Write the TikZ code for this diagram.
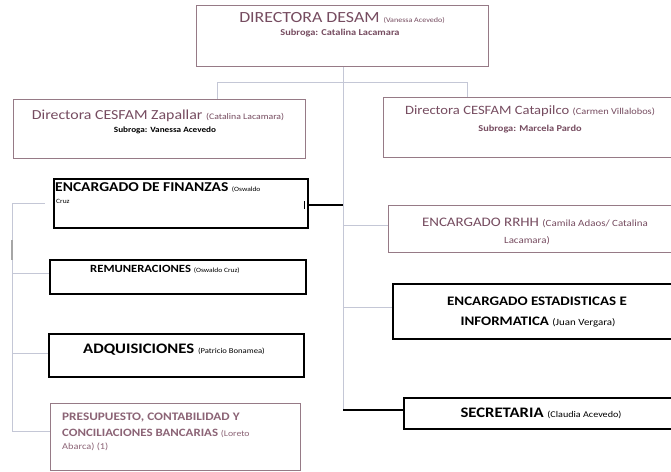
\documentclass[tikz,border=0pt]{standalone}
\usepackage{fontspec}
\setmainfont{Carlito}[FakeStretch=1.15]
\definecolor{mauve}{RGB}{118,76,96}
\definecolor{lmauve}{RGB}{140,100,118}
\definecolor{mborder}{RGB}{150,122,134}
\definecolor{linkc}{RGB}{196,199,214}
\newcommand{\fsz}[1]{\fontsize{#1}{#1}\selectfont}
\begin{document}
\begin{tikzpicture}[x=1pt,y=-1pt,
  mbox/.style={draw=mborder,line width=1.3pt,inner sep=0pt,anchor=north west,fill=white},
  kbox/.style={draw=black,line width=1.6pt,inner sep=0pt,anchor=north west,fill=white},
  mtext/.style={text=mauve,inner sep=0pt,anchor=center},
  ktext/.style={text=black,inner sep=0pt,anchor=center,font=\bfseries},
  link/.style={draw=linkc,line width=1pt},
  klink/.style={draw=black,line width=2pt}]
\useasboundingbox[fill=white] (0,0) rectangle (671,471);

% connector coordinates
\coordinate (h1) at (217,82);
\coordinate (h2) at (467,82);
\coordinate (vtop) at (343,82);
\coordinate (vbot) at (343,410);
\coordinate (vfin) at (343,205);
\coordinate (vrh) at (343,225);
\coordinate (ves) at (343,307);
\coordinate (lb1) at (12,203);
\coordinate (lb2) at (12,273);
\coordinate (lb3) at (12,353);
\coordinate (lb4) at (12,431);

% boxes
\node[mbox,minimum width=292pt,minimum height=61pt] (top) at (196,5) {};
\node[mbox,minimum width=292pt,minimum height=59pt] (zap) at (13,99) {};
\node[mbox,minimum width=300pt,minimum height=60pt] (cat) at (383,97) {};
\node[kbox,minimum width=254pt,minimum height=49pt] (fin) at (53,178) {};
\node[kbox,minimum width=256pt,minimum height=34pt] (rem) at (49,259) {};
\node[kbox,minimum width=255pt,minimum height=43pt] (adq) at (48,333) {};
\node[mbox,minimum width=250pt,minimum height=67pt] (pre) at (50,403) {};
\node[mbox,minimum width=295pt,minimum height=47pt] (rrh) at (388,205) {};
\node[kbox,minimum width=291pt,minimum height=55pt] (est) at (392,283) {};
\node[kbox,minimum width=280pt,minimum height=31pt] (sec) at (403,397) {};

% connector lines
\draw[link] (top.south -| vtop) -- (vbot);
\draw[link] (h1) -- (h2);
\draw[link] (h1) -- (h1 |- zap.north);
\draw[link] (h2) -- (h2 |- cat.north);
\draw[link] (vrh) -- (vrh -| rrh.west);
\draw[link] (ves) -- (ves -| est.west);
\draw[klink] (vbot) -- (vbot -| sec.west);
\draw[klink] (fin.east |- vfin) -- (vfin);
\draw[black,line width=1pt] ([xshift=-4pt]fin.east |- 0,201) -- ([xshift=-4pt]fin.east |- 0,209);
\draw[link] (lb1) -- (lb4);
\draw[link] (lb1) -- (45,203);
\draw[link] (lb2) -- (lb2 -| rem.west);
\draw[link] (lb3) -- (lb3 -| adq.west);
\draw[link] (lb4) -- (lb4 -| pre.west);
\draw[draw=gray!70,line width=2pt] (12,240) -- (12,260);

% texts
\node[mtext] (t1) at (342,18) {\fsz{15.5}DIRECTORA DESAM {\fsz{7}(Vanessa Acevedo)}};
\node[mtext] (t2) at (340,33) {\fsz{9}\bfseries Subroga: Catalina Lacamara};
\node[mtext] (t3) at (158,116) {\fsz{13.8}Directora CESFAM Zapallar {\fsz{8.5}(Catalina Lacamara)}};
\node[text=black,inner sep=0pt] (t4) at (165,130) {\fsz{8}\bfseries Subroga: Vanessa Acevedo};
\node[mtext] (t5) at (530,111) {\fsz{12.7}Directora CESFAM Catapilco {\fsz{9}(Carmen Villalobos)}};
\node[mtext] (t6) at (530,129) {\fsz{9}\bfseries Subroga: Marcela Pardo};
\node[ktext,anchor=west] (t7) at (55,188) {\fsz{13.5}ENCARGADO DE FINANZAS {\fsz{6.5}\mdseries (Oswaldo}};
\node[ktext,anchor=west] (t8) at (56,201) {\fsz{6.5}\mdseries Cruz};
\node[ktext] (t9) at (165,269) {\fsz{11}REMUNERACIONES {\fsz{6.5}\mdseries (Oswaldo Cruz)}};
\node[ktext] (t10) at (174,350) {\fsz{14.5}ADQUISICIONES {\fsz{7.5}\mdseries (Patricio Bonamea)}};
\node[anchor=west,inner sep=0pt,text=lmauve,font=\bfseries] (t11) at (62,418) {\fsz{11.5}PRESUPUESTO, CONTABILIDAD Y};
\node[anchor=west,inner sep=0pt,text=lmauve,font=\bfseries] (t12) at (62,433) {\fsz{11.2}CONCILIACIONES BANCARIAS {\fsz{8.5}\mdseries (Loreto}};
\node[anchor=west,inner sep=0pt,text=lmauve] (t13) at (62,447) {\fsz{9}Abarca) (1)};
\node[mtext] (t14) at (535,223) {\fsz{13}ENCARGADO RRHH {\fsz{9.5}(Camila Adaos/ Catalina}};
\node[mtext] (t15) at (527,241) {\fsz{9.5}Lacamara)};
\node[ktext] (t16) at (537,301) {\fsz{13}ENCARGADO ESTADISTICAS E};
\node[ktext] (t17) at (538,322) {\fsz{13}INFORMATICA {\fsz{9.5}\mdseries (Juan Vergara)}};
\node[ktext] (t18) at (541,413) {\fsz{14.5}SECRETARIA {\fsz{8.8}\mdseries (Claudia Acevedo)}};
\end{tikzpicture}
\end{document}
